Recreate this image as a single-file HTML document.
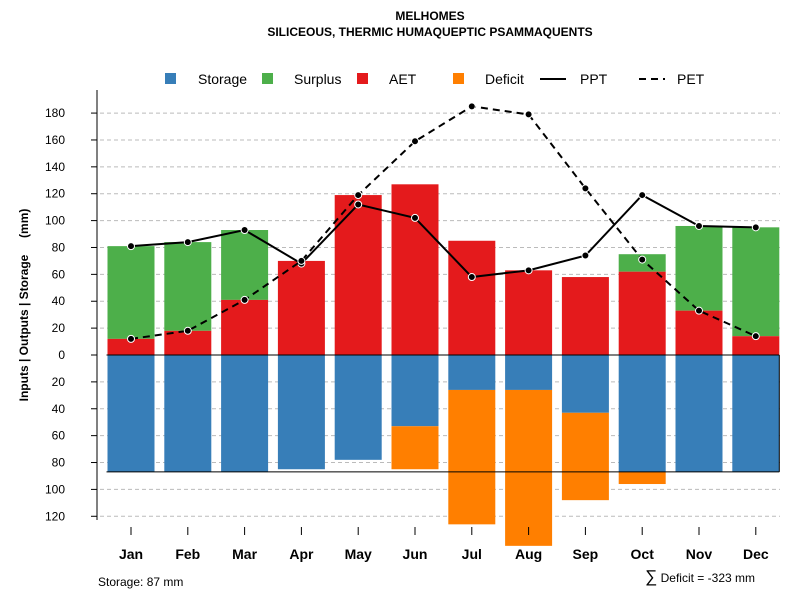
<!DOCTYPE html>
<html><head><meta charset="utf-8"><style>
body{margin:0;background:#fff;font-family:"Liberation Sans",sans-serif}
svg text{font-family:"Liberation Sans",sans-serif}
</style></head><body>
<svg id="chart" width="800" height="600" xmlns="http://www.w3.org/2000/svg">
<text x="430" y="20" text-anchor="middle" font-size="12" font-weight="bold">MELHOMES</text>
<text x="430" y="36" text-anchor="middle" font-size="12" font-weight="bold">SILICEOUS, THERMIC HUMAQUEPTIC PSAMMAQUENTS</text>
<g id="grid"></g><g id="bars"></g><g id="lines"></g><g id="axes"></g>
<g font-size="14">
<rect x="165" y="73" width="11" height="11" fill="#377EB8"/><text x="198" y="84">Storage</text>
<rect x="262" y="73" width="11" height="11" fill="#4DAF4A"/><text x="294" y="84">Surplus</text>
<rect x="357" y="73" width="11" height="11" fill="#E41A1C"/><text x="389" y="84">AET</text>
<rect x="453" y="73" width="11" height="11" fill="#FF7F00"/><text x="485" y="84">Deficit</text>
<line x1="540" y1="79" x2="566" y2="79" stroke="#000" stroke-width="2"/><text x="580" y="84">PPT</text>
<line x1="639" y1="79" x2="665" y2="79" stroke="#000" stroke-width="2" stroke-dasharray="7,5"/><text x="677" y="84">PET</text>
</g>
<text transform="translate(28,305) rotate(-90)" text-anchor="middle" font-size="12" font-weight="bold" xml:space="preserve">Inputs | Outputs | Storage     (mm)</text>
<text x="98" y="586" font-size="12">Storage: 87 mm</text>
<text x="755" y="582" text-anchor="end" font-size="12"><tspan font-size="17">∑</tspan> Deficit = -323 mm</text>
</svg>
<script>
const months=["Jan","Feb","Mar","Apr","May","Jun","Jul","Aug","Sep","Oct","Nov","Dec"];
const aet=[12,18,41,70,119,127,85,63,58,62,33,14];
const surplusTop=[81,84,93,70,119,127,85,63,58,75,96,95];
const storage=[87,87,87,85,78,53,26,26,43,87,87,87];
const deficitBottom=[87,87,87,85,78,85,126,142,108,96,87,87];
const ppt=[81,84,93,68,112,102,58,63,74,119,96,95];
const pet=[12,18,41,70,119,159,185,179,124,71,33,14];
const yTicks=[180,160,140,120,100,80,60,40,20,0,-20,-40,-60,-80,-100,-120];
const storageMax=87;
const NS="http://www.w3.org/2000/svg";
const y=v=>355-v*1.344;
const x=i=>131+i*56.8;
const bw=47;
function mk(tag,attrs,parent){const e=document.createElementNS(NS,tag);for(const k in attrs)e.setAttribute(k,attrs[k]);document.getElementById(parent).appendChild(e);return e;}
yTicks.forEach(t=>{
 if(t!==0){const g=mk('line',{x1:100,x2:780,y1:y(t),y2:y(t),stroke:'#bbb','stroke-dasharray':'4,3'},'grid');
 
 }
 const tk=mk('line',{x1:91,x2:97,y1:y(t),y2:y(t),stroke:'#000'},'axes');
 
 
 const tx=mk('text',{x:65,y:y(t)+4,'text-anchor':'end','font-size':12},'axes');tx.textContent=Math.abs(t);
 
 
});
const ax=mk('line',{x1:97,x2:97,y1:90,y2:520,stroke:'#000'},'axes');


months.forEach((m,i)=>{
 const cx=x(i),l=cx-bw/2;
 const r=(a,b,c,n)=>{const e=mk('rect',{x:l,y:Math.min(y(a),y(b)),width:bw,height:Math.abs(y(a)-y(b)),fill:c},'bars');
  
  };
 if(surplusTop[i]>aet[i])r(aet[i],surplusTop[i],'#4DAF4A','bar-surplus-'+m.toLowerCase());
 r(0,aet[i],'#E41A1C','bar-aet-'+m.toLowerCase());
 r(0,-storage[i],'#377EB8','bar-storage-'+m.toLowerCase());
 if(deficitBottom[i]>storage[i])r(-storage[i],-deficitBottom[i],'#FF7F00','bar-deficit-'+m.toLowerCase());
 const tk=mk('line',{x1:cx,x2:cx,y1:527,y2:535,stroke:'#000'},'axes');
 
 
 const tx=mk('text',{x:cx,y:559,'text-anchor':'middle','font-size':14,'font-weight':'bold'},'axes');tx.textContent=m;
 
 
});
const bl=mk('line',{x1:x(0)-bw/2-1,x2:x(11)+bw/2,y1:y(-storageMax),y2:y(-storageMax),stroke:'#000'},'bars');


const zl=mk('line',{x1:x(0)-bw/2-1,x2:x(11)+bw/2,y1:y(0),y2:y(0),stroke:'#000'},'bars');


const bx=mk('line',{x1:x(11)+bw/2,x2:x(11)+bw/2,y1:y(0),y2:y(-storageMax),stroke:'#000'},'bars');


[[ppt,'','ppt'],[pet,'7,5','pet']].forEach(([d,da,n])=>{
 const p=mk('polyline',{points:d.map((v,i)=>x(i)+','+y(v)).join(' '),fill:'none',stroke:'#000','stroke-width':2,'stroke-dasharray':da},'lines');
 
 
 d.forEach((v,i)=>{const c=mk('circle',{cx:x(i),cy:y(v),r:3.5,fill:'#000',stroke:'#fff','stroke-width':1},'lines');
  
  });
});
</script>
</body></html>
